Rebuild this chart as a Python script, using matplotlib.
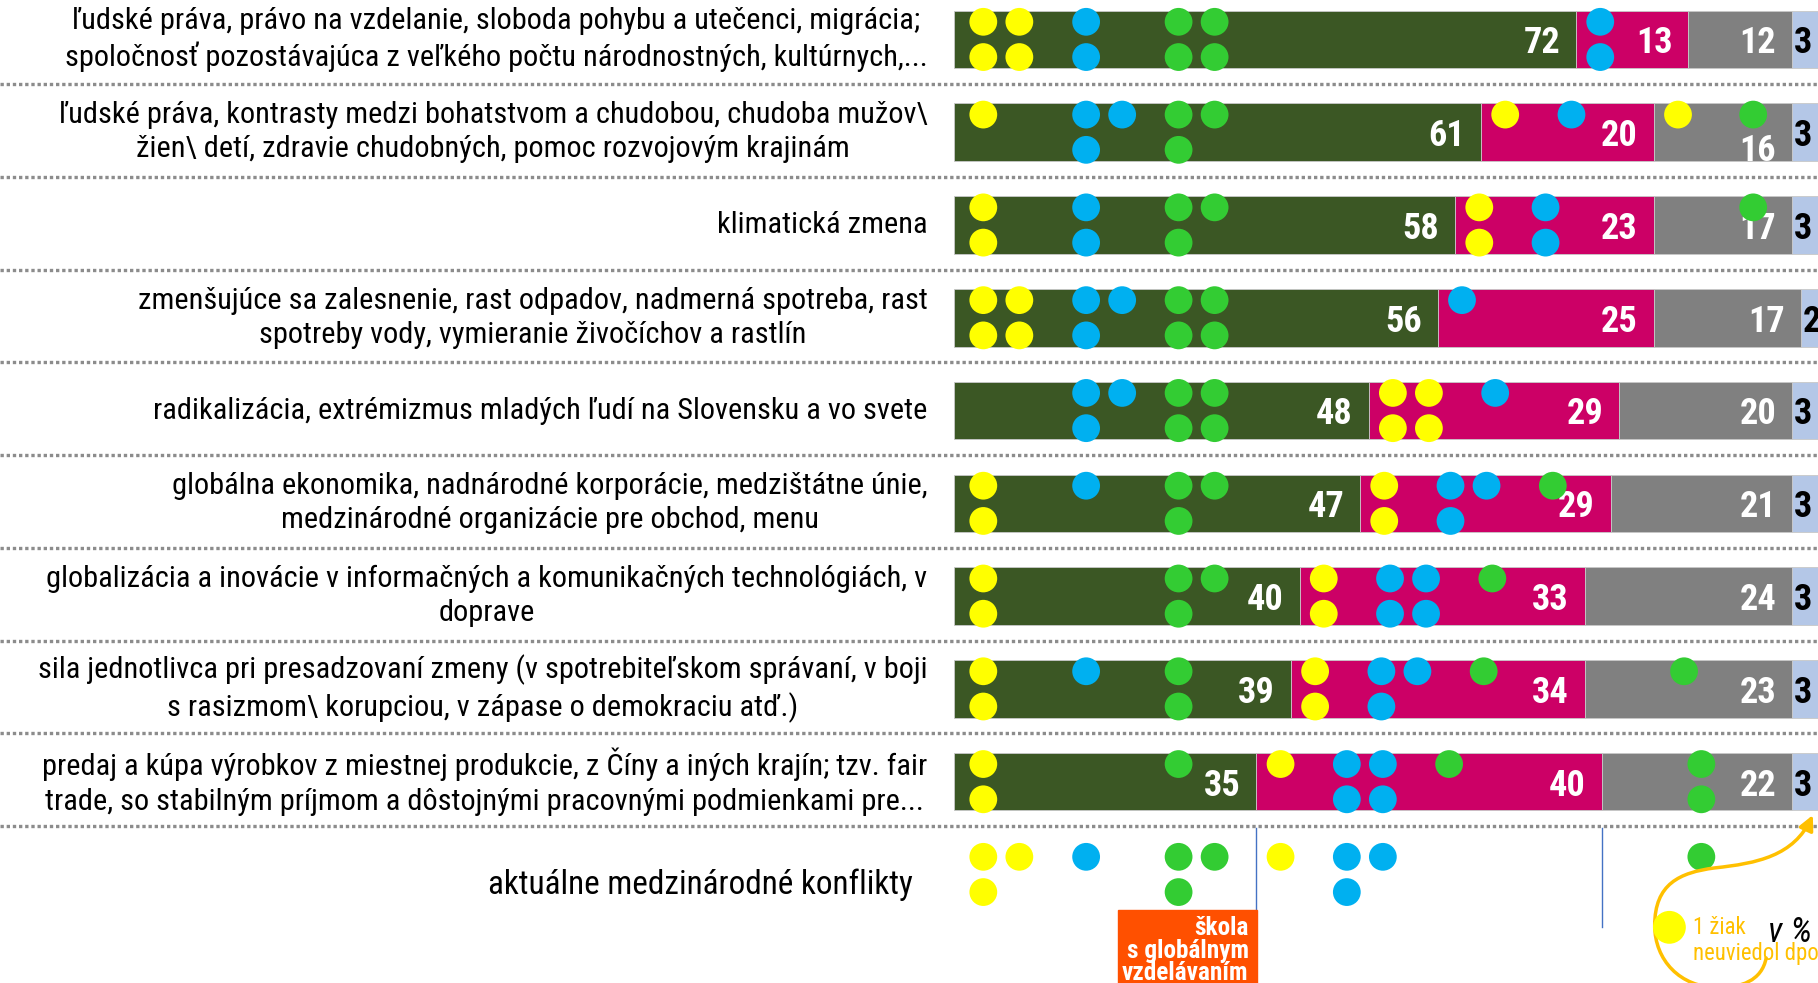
import numpy as np
import matplotlib.pyplot as plt
from matplotlib import font_manager
from matplotlib.path import Path
from matplotlib.patches import FancyArrowPatch, Rectangle

# pick a narrow sans font (the original uses Calibri)
fonts = font_manager.fontManager.ttflist
font_name, font_stretch = 'Lato', 'normal'
for name in ['Liberation Sans Narrow', 'Roboto Condensed', 'Open Sans Condensed',
             'Noto Sans', 'Open Sans', 'Roboto']:
    cond = [f for f in fonts if f.name == name and
            (f.stretch in ('condensed', 'semi-condensed') or 'Narrow' in name or 'Condensed' in name)]
    if cond:
        font_name, font_stretch = name, cond[0].stretch
        break
plt.rcParams['font.family'] = [font_name, 'DejaVu Sans']
plt.rcParams['font.stretch'] = font_stretch

labels = [
    "ľudské práva, právo na vzdelanie, sloboda pohybu a utečenci, migrácia;\n"
    "spoločnosť pozostávajúca z veľkého počtu národnostných, kultúrnych,...",
    "ľudské práva, kontrasty medzi bohatstvom a chudobou, chudoba mužov\\\n"
    "žien\\ detí, zdravie chudobných, pomoc rozvojovým krajinám",
    "klimatická zmena",
    "zmenšujúce sa zalesnenie, rast odpadov, nadmerná spotreba, rast\n"
    "spotreby vody, vymieranie živočíchov a rastlín",
    "radikalizácia, extrémizmus mladých ľudí na Slovensku a vo svete",
    "globálna ekonomika, nadnárodné korporácie, medzištátne únie,\n"
    "medzinárodné organizácie pre obchod, menu",
    "globalizácia a inovácie v informačných a komunikačných technológiách, v\n"
    "doprave",
    "sila jednotlivca pri presadzovaní zmeny (v spotrebiteľskom správaní, v boji\n"
    "s rasizmom\\ korupciou, v zápase o demokraciu atď.)",
    "predaj a kúpa výrobkov z miestnej produkcie, z Číny a iných krajín; tzv. fair\n"
    "trade, so stabilným príjmom a dôstojnými pracovnými podmienkami pre...",
]
last_label = "aktuálne medzinárodné konflikty"

# percentages of the four answer groups
val_green = [72, 61, 58, 56, 48, 47, 40, 39, 35]
val_pink = [13, 20, 23, 25, 29, 29, 33, 34, 40]
val_gray = [12, 16, 17, 17, 20, 21, 24, 23, 22]
val_na = [3, 3, 3, 2, 3, 3, 3, 3, 3]

# pupils of the school with global education (one dot = one pupil),
# count per answer group [green, pink, gray]; last row = conflicts
dots_yellow = [[4, 0, 0], [1, 1, 1], [2, 2, 0], [4, 0, 0], [0, 4, 0],
               [2, 2, 0], [2, 2, 0], [2, 2, 0], [2, 1, 0], [3, 1, 0]]
dots_blue = [[2, 2, 0], [3, 1, 0], [2, 2, 0], [3, 1, 0], [3, 1, 0],
             [1, 3, 0], [0, 4, 0], [1, 3, 0], [0, 4, 0], [1, 3, 0]]
dots_green = [[4, 0, 0], [3, 0, 1], [3, 0, 1], [4, 0, 0], [4, 0, 0],
              [3, 1, 0], [3, 1, 0], [2, 1, 1], [1, 1, 2], [3, 0, 1]]

c_green = '#3b5724'
c_pink = '#cc0066'
c_gray = '#808080'
c_na = '#b4c7e7'
dot_cols = ['#ffff00', '#00b0f0', '#33cc33']
gold = '#ffc000'

fig = plt.figure(figsize=(18.18, 9.83), dpi=100)
ax = fig.add_axes([0, 0, 1, 1])
ax.set_xlim(-110.4, 100)
ax.set_ylim(10.17, -0.425)
ax.axis('off')
renderer = fig.canvas.get_renderer()


def extent(text, size, **kw):
    t = fig.text(0, 0, text, size=size, **kw)
    bb = t.get_window_extent(renderer)
    t.remove()
    return bb


def fit(text, px, **kw):
    # font size that makes text about px pixels wide
    return 20 * px / extent(text, 20, **kw).width


lab_size = fit(labels[0].split('\n')[0], 846)
num_size = fit("40", 36.5, weight='bold')
last_size = fit(last_label, 425)
box_size = fit("s globálnym", 122, weight='bold')
note_size = fit("neuviedol dpo", 125)
pct_size = fit("v %", 44, style='italic')

# line spacing giving a 36 px step between label lines
step = (extent("a\nb", lab_size, linespacing=1.0).height
        - extent("a", lab_size, linespacing=1.0).height)
lab_ls = 36 / step

n = len(val_green)
y = np.arange(n)
g = np.array(val_green)
p = np.array(val_pink)
r = np.array(val_gray)
na = np.array(val_na)
na_left = 100 - na  # rounded shares: gray runs up to the no-answer part

bh = 0.62
ec = '#c8c8c8'
ax.barh(y, g, left=0, height=bh, color=c_green, edgecolor=ec, lw=0.6)
ax.barh(y, p, left=g, height=bh, color=c_pink, edgecolor=ec, lw=0.6)
ax.barh(y, na_left - (g + p), left=g + p, height=bh, color=c_gray, edgecolor=ec, lw=0.6)
ax.barh(y, na, left=na_left, height=bh, color=c_na, edgecolor=ec, lw=0.6)

for i in range(n):
    ends = [g[i], g[i] + p[i], na_left[i]]
    vals = [g[i], p[i], r[i]]
    for k in range(3):
        dy = 0.16 if (i == 1 and k == 2) else 0
        ax.text(ends[k] - 1.85, i + 0.15 + dy, str(vals[k]), ha='right', va='baseline',
                color='white', weight='bold', size=num_size)
    ax.text(na_left[i] + 0.2, i + 0.15, str(na[i]), ha='left', va='baseline',
            color='black', weight='bold', size=num_size)

for i, lab in enumerate(labels):
    ax.text(-3.06, i, lab, ha='right', va='center', multialignment='center',
            size=lab_size, color='black', linespacing=lab_ls)
ax.text(-4.7, n + 0.11, last_label, ha='right', va='center', size=last_size, color='black')

# dotted separators
for i in range(n):
    ax.plot([-110.4, 100], [i + 0.48, i + 0.48], color='#8c8c8c', lw=2.4,
            linestyle=(0, (1, 0.85)), solid_capstyle='butt', dash_capstyle='butt')

# dot layout
col_step = 4.17
dot_dy = 0.19
fixed_slots = {0: [3.4, 15.3, 26.0], 2: [2.8, 7.0, 11.5]}


def place(start, counts, seg):
    xs, ys, cs = [], [], []
    cursor = start + 2.8
    for c, cnt in enumerate(counts):
        if cnt == 0:
            continue
        ncol = int(np.ceil(cnt / 2))
        x0 = start + fixed_slots[seg][c] if seg in fixed_slots else cursor
        for j in range(cnt):
            row, col = divmod(j, ncol)
            xs.append(x0 + col * col_step)
            ys.append(-dot_dy if row == 0 else dot_dy)
            cs.append(dot_cols[c])
        cursor = x0 + ncol * col_step + 3.5
    return xs, ys, cs


dividers = np.cumsum([val_green[-1], val_pink[-1]])
for i in range(n + 1):
    if i < n:
        starts = [0, g[i], g[i] + p[i]]
    else:
        starts = [0, dividers[0], dividers[1]]
    for seg in range(3):
        counts = [dots_yellow[i][seg], dots_blue[i][seg], dots_green[i][seg]]
        xs, ys, cs = place(starts[seg], counts, seg)
        ax.scatter(xs, np.array(ys) + i, s=400, c=cs, edgecolors='none', zorder=3)

# thin dividers for the last row
for xv in dividers:
    ax.plot([xv, xv], [n - 0.5, n + 0.57], color='#4472c4', lw=1)

# orange label box
ax.add_patch(Rectangle((19.0, n + 0.38), 16.07, 1.0, color='#ff5000', zorder=2, clip_on=False))
ax.text(34.1, n + 0.45, "škola\ns globálnym\nvzdelávaním", ha='right', va='top',
        color='white', weight='bold', size=box_size, linespacing=0.92, zorder=3)

# legend for the missing answer
verts = [(94.0, 9.90), (93.5, 10.15), (91.0, 10.22), (88.5, 10.22),
         (84.0, 10.22), (81.1, 9.92), (81.1, 9.55),
         (81.1, 9.10), (84.0, 8.98), (88.0, 8.93),
         (93.0, 8.88), (97.2, 8.80), (99.4, 8.36)]
codes = [Path.MOVETO] + [Path.CURVE4] * 12
arrow = FancyArrowPatch(path=Path(verts, codes), arrowstyle='-|>', mutation_scale=22,
                        color=gold, lw=2.5, transform=ax.transData, zorder=4)
ax.add_patch(arrow)
ax.scatter([82.8], [9.57], s=560, c='#ffff00', edgecolors='none', zorder=5)
ax.text(85.5, 9.57, "1 žiak", ha='left', va='center', color=gold, size=note_size, zorder=5)
ax.text(85.5, 9.85, "neuviedol dpoveď", ha='left', va='center', color=gold,
        size=note_size, zorder=5)
ax.text(94.2, 9.62, "v %", ha='left', va='center', color='black', size=pct_size,
        style='italic', zorder=5)

fig.savefig('out.png', dpi=100)
